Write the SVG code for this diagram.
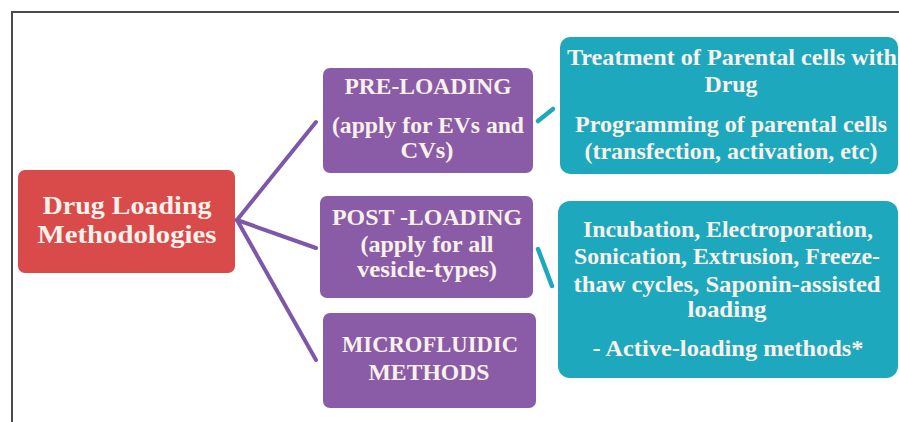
<svg xmlns="http://www.w3.org/2000/svg" width="899" height="422" viewBox="0 0 899 422">
<style>
.t{font-family:"Liberation Serif","Times New Roman",serif;font-weight:bold;fill:#f8f1ea;text-anchor:middle;}
.s{font-size:23.5px;}
.r{font-size:26px;}
.red{fill:#d94a4b;}
.pur{fill:#8a5ba6;}
.teal{fill:#1ea8bd;}
.pc{stroke:#7e58a8;stroke-width:4;fill:none;stroke-linecap:round;}
.tc{stroke:#1ea8bd;stroke-width:4.5;fill:none;stroke-linecap:round;}
</style>
<rect width="899" height="422" fill="#ffffff"/>
<path d="M12,423 V12 H900" fill="none" stroke="#4a4a4a" stroke-width="2"/>
<g id="connectors">
<line class="pc" x1="237" y1="220" x2="316" y2="122"/>
<line class="pc" x1="237" y1="220" x2="316" y2="248"/>
<line class="pc" x1="237" y1="220" x2="316" y2="360"/>
<line class="tc" x1="538" y1="121" x2="553" y2="109"/>
<line class="tc" x1="538" y1="249" x2="552" y2="286"/>
</g>
<g id="root">
<rect class="red" x="18" y="170" width="217" height="103" rx="7"/>
<text class="t r" x="127" y="214" textLength="169" lengthAdjust="spacingAndGlyphs">Drug Loading</text>
<text class="t r" x="127" y="243" textLength="179" lengthAdjust="spacingAndGlyphs">Methodologies</text>
</g>
<g id="preloading">
<rect class="pur" x="323" y="68" width="210" height="105" rx="7"/>
<text class="t s" x="428" y="94" textLength="167" lengthAdjust="spacingAndGlyphs">PRE-LOADING</text>
<text class="t s" x="428" y="133" textLength="192" lengthAdjust="spacingAndGlyphs">(apply for EVs and</text>
<text class="t s" x="427" y="158" textLength="53" lengthAdjust="spacingAndGlyphs">CVs)</text>
</g>
<g id="postloading">
<rect class="pur" x="320" y="196" width="213" height="102" rx="7"/>
<text class="t s" x="427" y="225" textLength="190" lengthAdjust="spacingAndGlyphs">POST -LOADING</text>
<text class="t s" x="427" y="252" textLength="133" lengthAdjust="spacingAndGlyphs">(apply for all</text>
<text class="t s" x="427" y="277" textLength="140" lengthAdjust="spacingAndGlyphs">vesicle-types)</text>
</g>
<g id="microfluidic">
<rect class="pur" x="323" y="313" width="213" height="95" rx="7"/>
<text class="t s" x="430" y="352" textLength="176" lengthAdjust="spacingAndGlyphs">MICROFLUIDIC</text>
<text class="t s" x="429" y="380" textLength="121" lengthAdjust="spacingAndGlyphs">METHODS</text>
</g>
<g id="pre-methods">
<rect class="teal" x="560" y="37" width="338" height="137" rx="10"/>
<text class="t s" x="732" y="65" textLength="330" lengthAdjust="spacingAndGlyphs">Treatment of Parental cells with</text>
<text class="t s" x="731" y="92" textLength="53" lengthAdjust="spacingAndGlyphs">Drug</text>
<text class="t s" x="731" y="132" textLength="312" lengthAdjust="spacingAndGlyphs">Programming of parental cells</text>
<text class="t s" x="731" y="159" textLength="293" lengthAdjust="spacingAndGlyphs">(transfection, activation, etc)</text>
</g>
<g id="post-methods">
<rect class="teal" x="558" y="201" width="340" height="177" rx="12"/>
<text class="t s" x="728" y="237" textLength="290" lengthAdjust="spacingAndGlyphs">Incubation, Electroporation,</text>
<text class="t s" x="727" y="264" textLength="306" lengthAdjust="spacingAndGlyphs">Sonication, Extrusion, Freeze-</text>
<text class="t s" x="727" y="292" textLength="307" lengthAdjust="spacingAndGlyphs">thaw cycles, Saponin-assisted</text>
<text class="t s" x="727" y="317" textLength="79" lengthAdjust="spacingAndGlyphs">loading</text>
<text class="t s" x="728" y="356" textLength="271" lengthAdjust="spacingAndGlyphs">- Active-loading methods*</text>
</g>
</svg>
